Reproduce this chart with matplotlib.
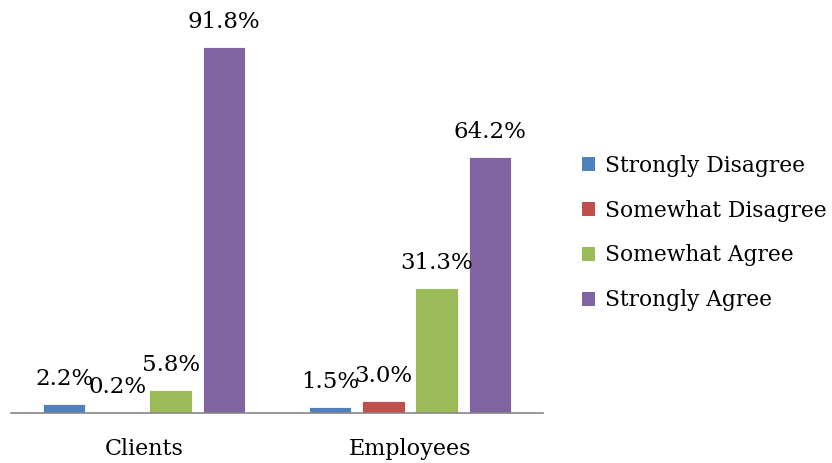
import matplotlib
matplotlib.use("Agg")
import matplotlib.pyplot as plt
from matplotlib.patches import Patch

groups = ["Clients", "Employees"]
series = ["Strongly Disagree", "Somewhat Disagree", "Somewhat Agree", "Strongly Agree"]
values = {
    "Strongly Disagree": [2.2, 1.5],
    "Somewhat Disagree": [0.2, 3.0],
    "Somewhat Agree": [5.8, 31.3],
    "Strongly Agree": [91.8, 64.2],
}
colors = ["#4F81BD", "#C0504D", "#9BBB59", "#8064A2"]

plt.rcParams["font.family"] = ["DejaVu Serif"]

W, H = 832, 463
fig = plt.figure(figsize=(W / 100, H / 100), dpi=100)
ax = fig.add_axes([11 / W, 50 / H, 532 / W, 399 / H])

offsets = [-0.3, -0.1, 0.1, 0.3]
width = 0.16
for name, col, off in zip(series, colors, offsets):
    xs = [i + off for i in range(len(groups))]
    vals = values[name]
    ax.bar(xs, vals, width=width, color=col, edgecolor="white", linewidth=0.6)
    for x, v in zip(xs, vals):
        ax.annotate(f"{v:.1f}%", (x, v), xytext=(0, 25), textcoords="offset pixels",
                    ha="center", va="center", fontsize=16.5, clip_on=False)

ax.set_xlim(-0.5, 1.5)
ax.set_ylim(0, 100)
ax.set_xticks(range(len(groups)))
ax.set_xticklabels(groups, fontsize=16)
ax.tick_params(axis="x", length=0, pad=18)
ax.set_yticks([])
for s in ["top", "right", "left"]:
    ax.spines[s].set_visible(False)
ax.spines["bottom"].set_color("#868686")
ax.spines["bottom"].set_linewidth(1.2)

handles = [Patch(facecolor=c, label=n) for n, c in zip(series, colors)]
fig.legend(handles=handles, loc="center left", bbox_to_anchor=(562 / W, 1 - 233 / H),
           frameon=False, fontsize=15.7, handlelength=0.6, handleheight=0.6,
           handletextpad=0.45, labelspacing=1.05)

fig.savefig("out.png", dpi=100)
